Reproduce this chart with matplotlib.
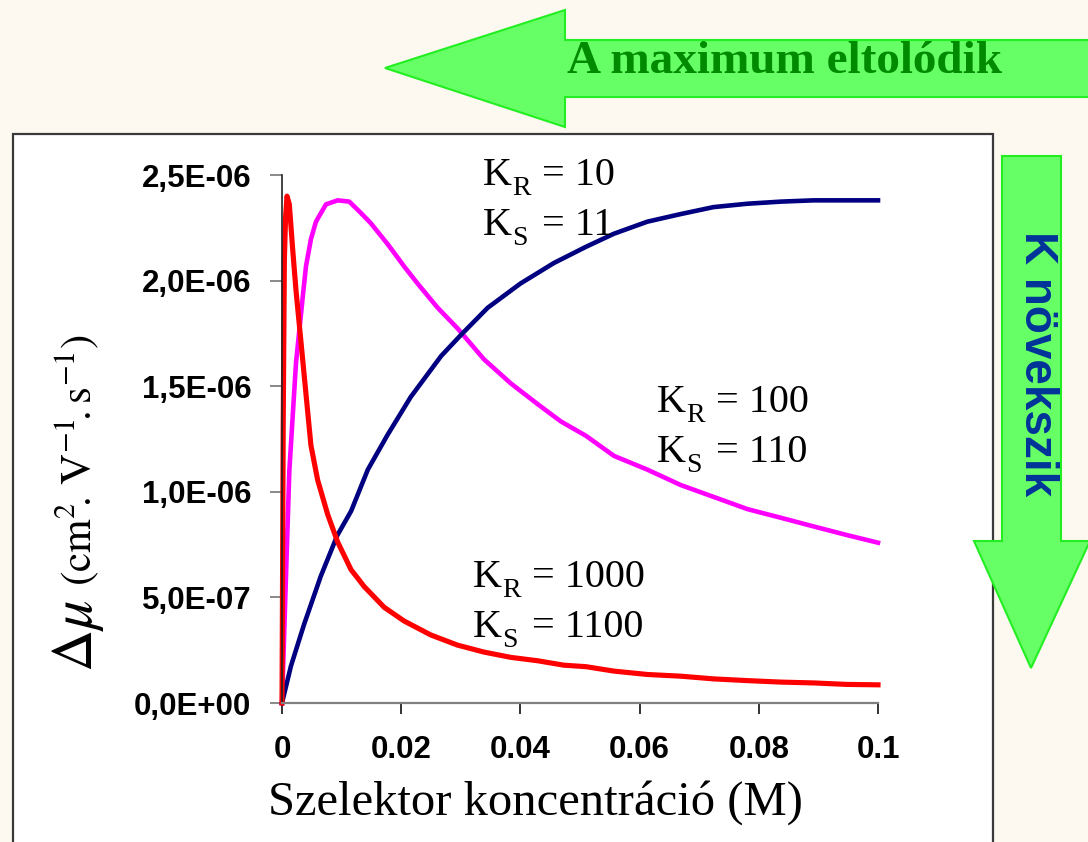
import matplotlib
matplotlib.use("Agg")
import matplotlib.pyplot as plt
from matplotlib.patches import Polygon, Rectangle

# ---------------- data ----------------
blue_x = [0, 0.0015, 0.0037, 0.0065, 0.0093, 0.0116, 0.0144, 0.0177, 0.0216, 0.0267,
          0.030, 0.0345, 0.040, 0.0456, 0.0510, 0.0557, 0.0613, 0.0669, 0.0724, 0.0781,
          0.0837, 0.0892, 0.1]
blue_y = [0, 0.175, 0.372, 0.60, 0.795, 0.909, 1.105, 1.269, 1.449, 1.643,
          1.742, 1.871, 1.986, 2.083, 2.16, 2.222, 2.279, 2.315, 2.348, 2.364,
          2.374, 2.380, 2.380]

magenta_x = [0, 0.0005, 0.00095, 0.00123, 0.00235, 0.00347, 0.00402, 0.00486, 0.0057,
             0.00738, 0.00933, 0.01129, 0.01324, 0.01492, 0.01772, 0.0205, 0.02275,
             0.0261, 0.02945, 0.0339, 0.0384, 0.0429, 0.0468, 0.0510, 0.0557, 0.0613,
             0.0669, 0.0725, 0.0781, 0.0837, 0.0892, 0.0948, 0.1]
magenta_y = [0, 0.45, 0.85, 1.10, 1.611, 1.920, 2.067, 2.197, 2.279,
             2.361, 2.380, 2.374, 2.320, 2.271, 2.173, 2.067, 1.986,
             1.872, 1.774, 1.627, 1.513, 1.415, 1.333, 1.265, 1.170, 1.105,
             1.032, 0.975, 0.918, 0.877, 0.836, 0.795, 0.759]

red_x = [0, 0.0002, 0.0004, 0.0006, 0.00084, 0.00123, 0.00179, 0.00235, 0.00319,
         0.00402, 0.00486, 0.00598, 0.00766, 0.00933, 0.01157, 0.0138, 0.01715,
         0.0205, 0.02498, 0.02945, 0.0339, 0.0384, 0.0429, 0.0473, 0.0510, 0.0557,
         0.0613, 0.0669, 0.0725, 0.0781, 0.0837, 0.0892, 0.0948, 0.1]
red_y = [0, 1.3, 2.1, 2.3, 2.40, 2.361, 2.149, 1.953, 1.708,
         1.464, 1.219, 1.056, 0.893, 0.763, 0.632, 0.551, 0.453,
         0.388, 0.322, 0.274, 0.241, 0.216, 0.200, 0.179, 0.172, 0.151,
         0.135, 0.127, 0.114, 0.106, 0.099, 0.095, 0.088, 0.086]
y_scale = 1e-6

x_ticks = [0, 0.02, 0.04, 0.06, 0.08, 0.1]
x_tick_labels = ["0", "0.02", "0.04", "0.06", "0.08", "0.1"]
y_ticks = [0, 0.5e-6, 1.0e-6, 1.5e-6, 2.0e-6, 2.5e-6]
y_tick_labels = ["0,0E+00", "5,0E-07", "1,0E-06", "1,5E-06", "2,0E-06", "2,5E-06"]

# (subscript, value) pairs for the K annotations
labels_top = [("R", "= 10"), ("S", "= 11")]
labels_mid = [("R", "= 100"), ("S", "= 110")]
labels_bot = [("R", "= 1000"), ("S", "= 1100")]

# ---------------- figure ----------------
W, H = 1088, 842
plt.rcParams["mathtext.fontset"] = "stix"
fig = plt.figure(figsize=(W / 100, H / 100), dpi=100)
fig.patch.set_facecolor("#FDF9F0")


def fx(px):
    return px / W


def fy(py):
    return 1 - py / H


# white panel
fig.patches.append(Rectangle((fx(13), fy(850)), fx(993) - fx(13), fy(134) - fy(850),
                             transform=fig.transFigure, facecolor="white",
                             edgecolor="#3a3a3a", linewidth=1.6, zorder=-2))

# left arrow
left_arrow = [(385, 68), (565, 10), (565, 40), (1095, 40), (1095, 97), (565, 97), (565, 127)]
fig.patches.append(Polygon([(fx(a), fy(b)) for a, b in left_arrow], closed=True,
                           transform=fig.transFigure, facecolor="#66FF66",
                           edgecolor="#22EE22", linewidth=1.5, zorder=1))
fig.text(fx(785), fy(62), "A maximum eltolódik", family="Liberation Serif",
         weight="bold", fontsize=34, color="#008A00", ha="center", va="center",
         zorder=2)

# down arrow
down_arrow = [(1002, 156), (1061, 156), (1061, 541), (1090, 541), (1031, 668),
              (974, 541), (1002, 541)]
fig.patches.append(Polygon([(fx(a), fy(b)) for a, b in down_arrow], closed=True,
                           transform=fig.transFigure, facecolor="#66FF66",
                           edgecolor="#22EE22", linewidth=1.5, zorder=2))
fig.text(fx(1037), fy(364), "K növekszik", family="Liberation Sans",
         weight="bold", fontsize=33, color="#003399", ha="center", va="center",
         rotation=-90, zorder=3)

# axes
ax = fig.add_axes([fx(282), fy(703), fx(878) - fx(282), fy(175) - fy(703)])
ax.set_zorder(5)
ax.set_facecolor("none")
ax.plot(magenta_x, [v * y_scale for v in magenta_y], color="#FF00FF", lw=3.3,
        solid_joinstyle="round", clip_on=False)
ax.plot(blue_x, [v * y_scale for v in blue_y], color="#000080", lw=3.3,
        solid_joinstyle="round", clip_on=False)
ax.plot(red_x, [v * y_scale for v in red_y], color="#FF0000", lw=3.7,
        solid_joinstyle="round", clip_on=False)

ax.set_xlim(0, 0.1)
ax.set_ylim(0, 2.5e-6)
tick_font = dict(family="Liberation Sans", fontweight="bold", fontsize=22.5)
ax.set_xticks(x_ticks)
ax.set_xticklabels(x_tick_labels, **tick_font)
ax.set_yticks(y_ticks)
ax.set_yticklabels(y_tick_labels, **tick_font)
for s in ["top", "right"]:
    ax.spines[s].set_visible(False)
ax.spines["left"].set_color("#222222")
ax.spines["left"].set_linewidth(1.2)
ax.spines["bottom"].set_color("#808080")
ax.spines["bottom"].set_linewidth(1.6)
ax.tick_params(axis="y", direction="out", length=9, width=1.3, color="#808080",
               pad=13)
ax.tick_params(axis="x", direction="out", length=8, width=1.3, color="#222222",
               pad=15)

# axis titles
fig.text(fx(535), fy(803), "Szelektor koncentráció (M)", family="Liberation Serif",
         fontsize=35, ha="center", va="center")
fig.text(fx(77), fy(636), r"$\Delta\mu$", fontsize=42, rotation=90,
         ha="center", va="center")
fig.text(fx(77), fy(460), r"$\mathrm{(cm^{2}\!.\,V^{-1}\!.s^{-1})}$", fontsize=31,
         rotation=90, ha="center", va="center")

# annotations
serif = "Liberation Serif"
for (x0, y0), labs in [((483, 185), labels_top), ((657, 412), labels_mid),
                       ((473, 587), labels_bot)]:
    for i, (sub, val) in enumerate(labs):
        yb = y0 + 50 * i
        fig.text(fx(x0), fy(yb), "K", family=serif, fontsize=29, ha="left",
                 va="baseline", zorder=6)
        fig.text(fx(x0 + 29), fy(yb + 10), sub, family=serif, fontsize=20,
                 ha="left", va="baseline", zorder=6)
        fig.text(fx(x0 + 59), fy(yb), val, family=serif, fontsize=29, ha="left",
                 va="baseline", zorder=6)

fig.savefig("out.png", dpi=100, facecolor=fig.get_facecolor())
